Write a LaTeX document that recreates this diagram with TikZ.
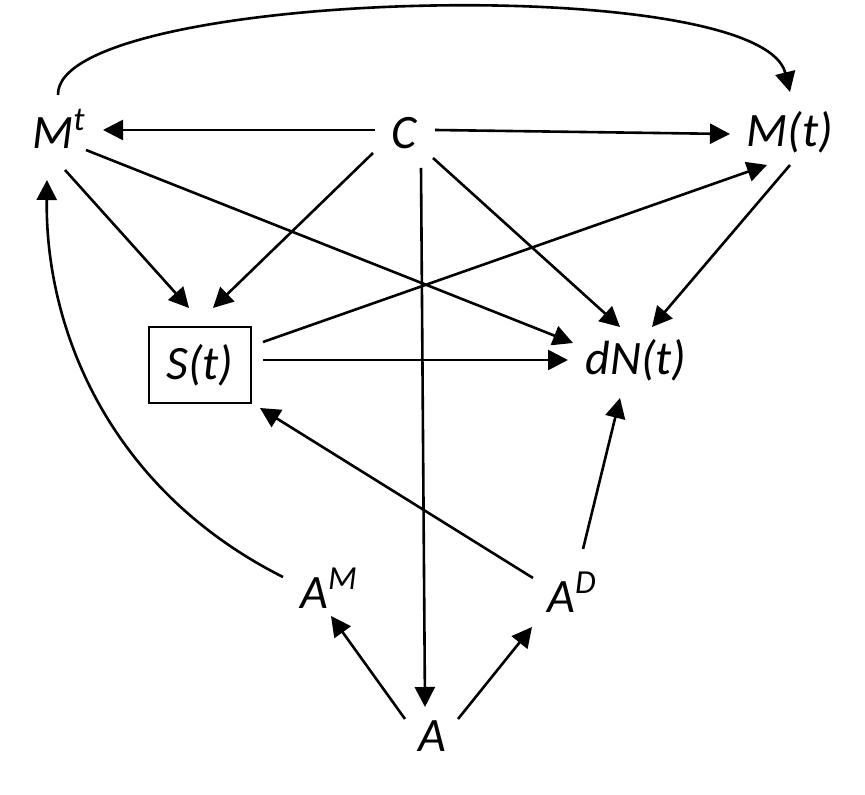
\documentclass[tikz,border=0pt]{standalone}
\usepackage{fontspec}
\setmainfont{Carlito}
\usetikzlibrary{calc,arrows.meta}

\begin{document}
\begin{tikzpicture}[x=0.5pt,y=-0.5pt,
  var/.style={font=\fontsize{24}{28}\selectfont\itshape,inner sep=0pt,anchor=base},
  boxvar/.style={font=\fontsize{24}{28}\selectfont\itshape,draw,line width=1.4pt,
    minimum width=51pt,minimum height=38pt,inner sep=0pt},
  arr/.style={line width=1.3pt,-{Triangle[length=10pt,width=10pt]}}]
  \useasboundingbox (0,0) rectangle (865,795);

  % variables
  \node[var] (Mt)  at (59,149)  {M\textsuperscript{t}};
  \node[var] (C)   at (404,149) {C};
  \node[var] (Mtt) at (790,147) {M(t)};
  \node[boxvar] (St) at (200,365) {S(t)};
  \node[var] (dN)  at (636,375) {dN(t)};
  \node[var] (AM)  at (329,608) {A\textsuperscript{M}};
  \node[var] (AD)  at (572,612) {A\textsuperscript{D}};
  \node[var] (A)   at (432,751) {A};

  % arrows out of C
  \draw[arr] ($(C.base)+(-29,-19)$) -- ($(Mt.base)+(44,-19)$);
  \draw[arr] ($(C.base)+(31,-19)$) -- ($(Mtt.base)+(-60,-13)$);
  \draw[arr] ($(C.base)+(-31,4)$) -- ($(St)+(13,-57)$);
  \draw[arr] ($(C.base)+(29,9)$) -- ($(dN.base)+(-16,-48)$);
  \draw[arr] ($(C.base)+(17,19)$) -- ($(A.base)+(-7,-44)$);

  % arrows out of M^t
  \draw[arr] ($(Mt.base)+(6,21)$) -- ($(St)+(-11,-57)$);
  \draw[arr] ($(Mt.base)+(27,1)$) -- ($(dN.base)+(-63,-32)$);
  \draw[arr] ($(Mt.base)+(-1,-54)$) .. controls +(-3,-105) and +(-30,-122) .. ($(Mtt.base)+(0,-55)$);

  % S(t) and M(t) into dN(t)
  \draw[arr] ($(St)+(63,-23)$) -- ($(Mtt.base)+(-23,18)$);
  \draw[arr] ($(St)+(63,-5)$) -- ($(dN.base)+(-68,-15)$);
  \draw[arr] ($(Mtt.base)+(0,18)$) -- ($(dN.base)+(16,-48)$);

  % A and its parts
  \draw[arr] ($(A.base)+(-27,-32)$) -- ($(AM.base)+(2,8)$);
  \draw[arr] ($(A.base)+(26,-32)$) -- ($(AD.base)+(-40,15)$);
  \draw[arr] ($(AD.base)+(-39,-34)$) -- ($(St)+(60,43)$);
  \draw[arr] ($(AD.base)+(11,-63)$) -- ($(dN.base)+(-16,23)$);
  \draw[arr] ($(AM.base)+(-46,-31)$) .. controls +(-173,-87) and +(-2,150) .. ($(Mt.base)+(-12,31)$);
\end{tikzpicture}
\end{document}
